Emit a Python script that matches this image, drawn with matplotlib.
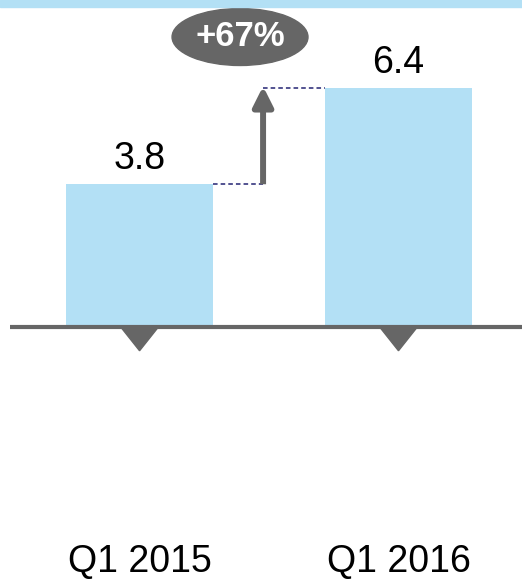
import matplotlib
matplotlib.use("Agg")
import matplotlib.pyplot as plt
from matplotlib.patches import Ellipse, Polygon, Rectangle

plt.rcParams['font.family'] = ['Liberation Sans', 'DejaVu Sans']

categories = ['Q1 2015', 'Q1 2016']
values = [3.8, 6.4]
growth_label = '+67%'

bar_color = '#B3E0F5'
gray = '#666666'
dash_color = '#232373'
bar_width = 0.567

fig = plt.figure(figsize=(5.22, 5.82), dpi=100)
ax = fig.add_axes([0, 0, 1, 1])
ax.set_xlim(-0.539, 1.477)
ax.set_ylim(-6.95, 8.78)
ax.axis('off')

# light blue strip at the very top
fig.patches.append(Rectangle((0, 1 - 7 / 582), 1, 7 / 582, transform=fig.transFigure,
                             color=bar_color, zorder=0))

x = list(range(len(categories)))
ax.bar(x, values, width=bar_width, color=bar_color, zorder=2)

# baseline
ax.plot([-0.5, 1.477], [-0.05, -0.05], color=gray, lw=3, solid_capstyle='butt', zorder=3)

# triangles under each bar
for xi in x:
    tri = Polygon([[xi - 0.068, -0.1], [xi + 0.068, -0.1], [xi, -0.7]],
                  closed=True, color=gray, zorder=3)
    ax.add_patch(tri)

# value labels
for xi, v in zip(x, values):
    ax.annotate(f'{v:.1f}', (xi, v), xytext=(0, 5), textcoords='offset points',
                ha='center', va='bottom', fontsize=27, color='black')

# category labels
for xi, c in zip(x, categories):
    ax.text(xi, -6.4, c, ha='center', va='center', fontsize=27, color='black')

# growth arrow with dashed connectors
ax_x = 0.477
ax.plot([bar_width / 2, ax_x], [values[0], values[0]], ls=(0, (3, 2)), lw=1.1,
        color=dash_color, zorder=3)
ax.plot([ax_x, 1 - bar_width / 2], [values[1], values[1]], ls=(0, (3, 2)), lw=1.1,
        color=dash_color, zorder=3)
ax.annotate('', xy=(ax_x, values[1] + 0.05), xytext=(ax_x, values[0]),
            arrowprops=dict(arrowstyle='-|>,head_length=0.6,head_width=0.3',
                            mutation_scale=20, lw=4.3, color=gray,
                            capstyle='butt', shrinkA=0, shrinkB=0), zorder=4)

# badge
badge_x, badge_y = 0.388, 7.78
ax.add_patch(Ellipse((badge_x, badge_y), 0.525, 1.54, color=gray, zorder=4))
ax.text(badge_x, badge_y, growth_label, ha='center', va='center', fontsize=25,
        fontweight='bold', color='white', zorder=5)

fig.savefig('out.png', dpi=100)
